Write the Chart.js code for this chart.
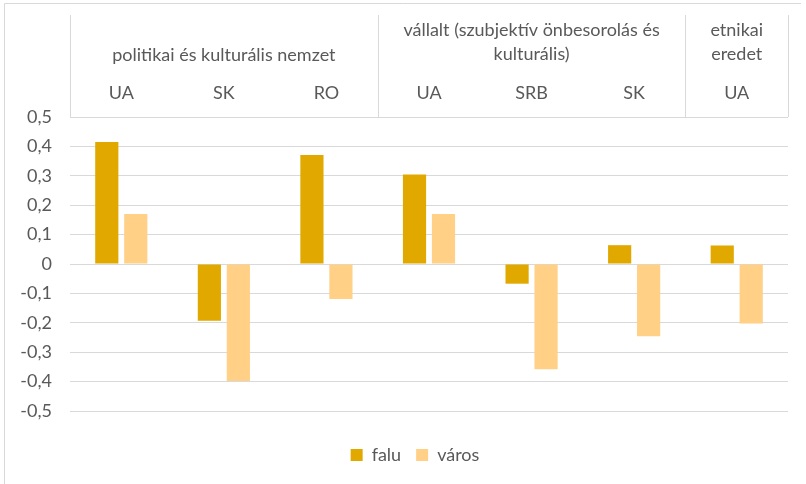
<!DOCTYPE html>
<html>
<head>
<meta charset="utf-8">
<script src="https://cdn.jsdelivr.net/npm/chart.js@4/dist/chart.umd.min.js"></script>
<style>
  html, body { margin: 0; padding: 0; background: #ffffff; }
  canvas { display: block; }
</style>
</head>
<body>
<canvas id="c" width="806" height="484"></canvas>
<script>
// ---- data ----
const categories = ['UA', 'SK', 'RO', 'UA', 'SRB', 'SK', 'UA'];
const groupLabels = [
  ['politikai és kulturális nemzet'],
  ['vállalt (szubjektív önbesorolás és', 'kulturális)'],
  ['etnikai', 'eredet']
];
const groupSpans = [3, 3, 1];
const seriesNames = ['falu', 'város'];
const falu  = [0.415, -0.193, 0.371, 0.304, -0.067, 0.064, 0.063];
const varos = [0.170, -0.398, -0.119, 0.170, -0.358, -0.246, -0.202];

const TEXT = '#595959';
const GRID = '#d9d9d9';
const FONT = 'Lato';
const FS = 18;

function fmt(v) {
  if (Math.abs(v) < 1e-9) return '0';
  return v.toFixed(1).replace('.', ',');
}

const framePlugin = {
  id: 'frame',
  afterLayout(chart) {
    if (chart.legend) { chart.legend.left += 21; chart.legend.right += 21; }
  },
  beforeDraw(chart) {
    const ctx = chart.ctx;
    ctx.save();
    ctx.fillStyle = '#ffffff';
    ctx.fillRect(0, 0, chart.width, chart.height);
    ctx.strokeStyle = GRID;
    ctx.lineWidth = 1;
    ctx.beginPath();
    ctx.moveTo(4.5, chart.height);
    ctx.lineTo(4.5, 3.5);
    ctx.lineTo(801, 3.5);
    ctx.stroke();
    ctx.restore();
  }
};

const headerPlugin = {
  id: 'header',
  afterDraw(chart) {
    const ctx = chart.ctx;
    const { top, left, right } = chart.chartArea;
    const n = categories.length;
    const w = (right - left) / n;
    ctx.save();
    ctx.strokeStyle = GRID;
    ctx.lineWidth = 1;
    let b = 0;
    const bounds = [0];
    groupSpans.forEach(s => { b += s; bounds.push(b); });
    ctx.beginPath();
    bounds.forEach(k => {
      const px = Math.round(left + k * w) + 0.5;
      ctx.moveTo(px, top - 102);
      ctx.lineTo(px, top);
    });
    ctx.stroke();
    ctx.fillStyle = TEXT;
    ctx.font = FS + 'px ' + FONT;
    ctx.textAlign = 'center';
    ctx.textBaseline = 'alphabetic';
    const xs = chart.scales.x;
    categories.forEach((c, i) => {
      ctx.fillText(c, xs.getPixelForValue(i), top - 18);
    });
    let start = 0;
    groupLabels.forEach((lines, g) => {
      const cx = left + (start + groupSpans[g] / 2) * w;
      if (lines.length === 1) {
        ctx.fillText(lines[0], cx, top - 56);
      } else {
        ctx.fillText(lines[0], cx, top - 81);
        ctx.fillText(lines[1], cx, top - 57);
      }
      start += groupSpans[g];
    });
    ctx.restore();
  }
};

Chart.defaults.font.family = FONT;
Chart.defaults.font.size = FS;
Chart.defaults.color = TEXT;

new Chart(document.getElementById('c'), {
  type: 'bar',
  data: {
    labels: categories,
    datasets: [
      { label: seriesNames[0], data: falu, backgroundColor: '#E1A900', categoryPercentage: 0.565, barPercentage: 0.8 },
      { label: seriesNames[1], data: varos, backgroundColor: '#FFD086', categoryPercentage: 0.565, barPercentage: 0.8 }
    ]
  },
  options: {
    responsive: false,
    animation: false,
    devicePixelRatio: 1,
    layout: { padding: { top: 117, right: 18, left: 0, bottom: 10 } },
    plugins: {
      legend: {
        position: 'bottom',
        labels: { boxWidth: 12, boxHeight: 12, padding: 15, color: TEXT, font: { size: FS } }
      },
      tooltip: { enabled: false }
    },
    scales: {
      x: { display: false, position: 'top' },
      x2: {
        type: 'category', position: 'bottom', display: true,
        ticks: { display: false }, grid: { display: false }, border: { display: false },
        afterFit(s) { s.height = 20; }
      },
      y: {
        min: -0.5, max: 0.5,
        ticks: { stepSize: 0.1, padding: 18, color: TEXT, callback: v => fmt(v) },
        grid: { color: GRID, drawTicks: false, lineWidth: 1 },
        border: { display: false },
        afterFit(s) { s.width = 70; }
      }
    }
  },
  plugins: [framePlugin, headerPlugin]
});
</script>
</body>
</html>
